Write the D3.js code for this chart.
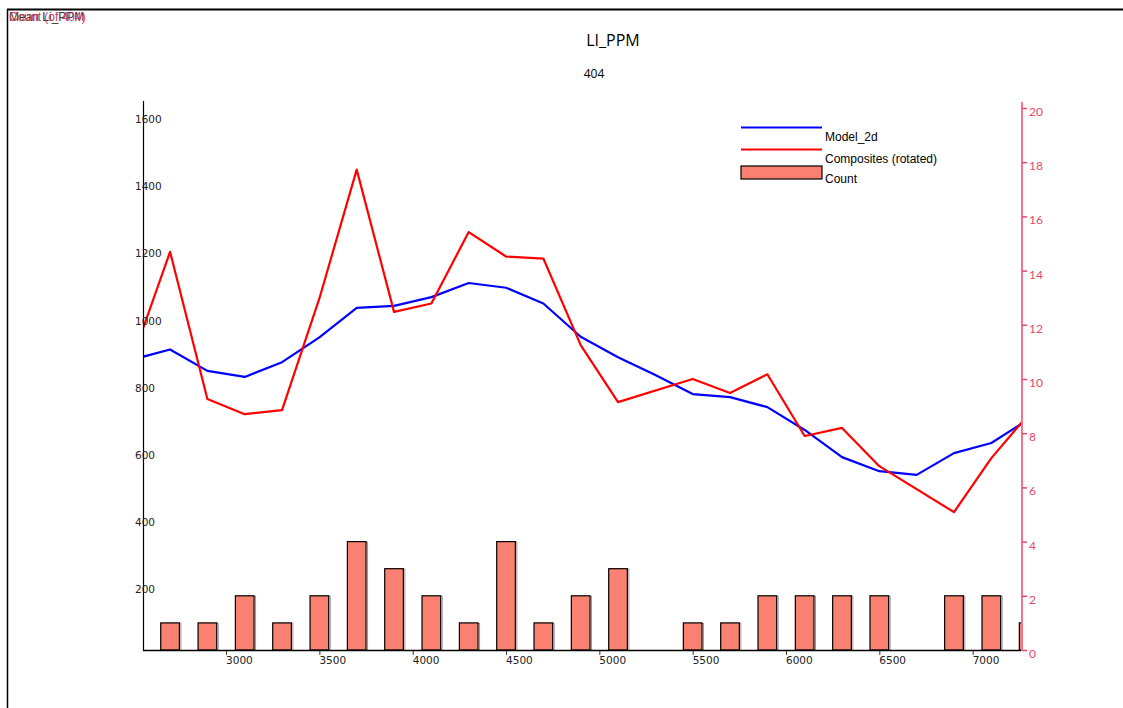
<!DOCTYPE html>
<html>
<head>
<meta charset="utf-8">
<script src="https://cdn.jsdelivr.net/npm/d3@7"></script>
<style>
  html, body { margin: 0; padding: 0; background: #fff; }
  svg { display: block; }
</style>
</head>
<body>
<svg id="chart" width="1123" height="708"></svg>
<script>
// ---- Data ----
const depths = [2500, 2700, 2900, 3100, 3300, 3500, 3700, 3900, 4100, 4300, 4500, 4700, 4900,
                5100, 5300, 5500, 5700, 5900, 6100, 6300, 6500, 6700, 6900, 7100, 7300];
const model2d = [866, 896, 832, 814, 858, 932, 1020, 1026, 1052, 1094, 1080, 1033, 934,
                 873, 820, 763, 754, 724, 656, 575, 533, 522, 587, 617, 688];
const composites = [872, 1187, 748, 703, 715, 1048, 1432, 1008, 1033, 1246, 1173, 1167, 909,
                    739, null, 808, 766, 822, 638, 662, 548, null, 411, 572, 703];
const counts = [0, 1, 1, 2, 1, 2, 4, 3, 2, 1, 4, 1, 2,
                3, 0, 1, 1, 2, 2, 2, 2, 0, 2, 2, 1];
const xTicks = [3000, 3500, 4000, 4500, 5000, 5500, 6000, 6500, 7000];
const leftTicks = [200, 400, 600, 800, 1000, 1200, 1400, 1600];
const rightTicks = [0, 2, 4, 6, 8, 10, 12, 14, 16, 18, 20];
const legendItems = ["Model_2d", "Composites (rotated)", "Count"];
const binWidth = 100;

// ---- Layout ----
const svg = d3.select("#chart");
const L = 143, R = 1021, B = 650;
const x = d3.scaleLinear().domain([2555, 7259]).range([L, R]);
const yL = d3.scaleLinear().domain([0, 1600]).range([B, 113.3]);
const yR = d3.scaleLinear().domain([0, 20]).range([B, 108]);
const axisRed = "#e8476a";

// frame
svg.append("line").attr("x1", 7).attr("x2", 1123).attr("y1", 9.5).attr("y2", 9.5)
  .attr("stroke", "#000").attr("stroke-width", 2);
svg.append("line").attr("x1", 7.5).attr("x2", 7.5).attr("y1", 9).attr("y2", 708)
  .attr("stroke", "#000").attr("stroke-width", 1.5);

// top-left overlapping labels
svg.append("text").attr("x", 9).attr("y", 21).attr("font-family", "Liberation Sans, Arial")
  .attr("font-size", 12).attr("fill", "#333").text("Mean Li_PPM");
svg.append("text").attr("x", 9).attr("y", 21).attr("font-family", "Liberation Sans, Arial")
  .attr("font-size", 12).attr("fill", "#d9365b").text("Count (of 404)");

// title
svg.append("text").attr("x", 613).attr("y", 46).attr("text-anchor", "middle")
  .attr("font-family", "Open Sans, sans-serif").attr("font-size", 16).attr("fill", "#000").text("LI_PPM");
svg.append("text").attr("x", 594).attr("y", 78).attr("text-anchor", "middle")
  .attr("font-family", "Open Sans, sans-serif").attr("font-size", 12).attr("fill", "#000").text("404");

// clip
svg.append("clipPath").attr("id", "plotclip").append("rect")
  .attr("x", L).attr("y", 95).attr("width", R - L).attr("height", B - 95 + 1);
const plot = svg.append("g").attr("clip-path", "url(#plotclip)");

// bars
const barData = depths.map((d, i) => ({ d, c: counts[i] })).filter(o => o.c > 0);
plot.selectAll("rect.shadow").data(barData).enter().append("rect")
  .attr("x", o => x(o.d - binWidth / 2) + 1.5)
  .attr("y", o => yR(o.c) + 0.5)
  .attr("width", o => x(o.d + binWidth / 2) - x(o.d - binWidth / 2))
  .attr("height", o => yR(0) - yR(o.c))
  .attr("fill", "none").attr("stroke", "#999").attr("stroke-width", 1);
plot.selectAll("rect.bar").data(barData).enter().append("rect")
  .attr("x", o => x(o.d - binWidth / 2))
  .attr("y", o => yR(o.c))
  .attr("width", o => x(o.d + binWidth / 2) - x(o.d - binWidth / 2))
  .attr("height", o => yR(0) - yR(o.c))
  .attr("fill", "#fa8072").attr("stroke", "#000").attr("stroke-width", 1.2);

// lines
const line = d3.line().defined(d => d[1] != null).x(d => x(d[0])).y(d => yL(d[1]));
const modelPts = depths.map((d, i) => [d, model2d[i]]);
const compPts = depths.map((d, i) => [d, composites[i]]).filter(p => p[1] != null);
plot.append("path").attr("d", line(modelPts)).attr("fill", "none")
  .attr("stroke", "#0000ff").attr("stroke-width", 2.2).attr("stroke-linejoin", "round");
plot.append("path").attr("d", line(compPts)).attr("fill", "none")
  .attr("stroke", "#ff0000").attr("stroke-width", 2.2).attr("stroke-linejoin", "round");

// left axis
svg.append("line").attr("x1", L + 0.5).attr("x2", L + 0.5).attr("y1", 101).attr("y2", B + 1)
  .attr("stroke", "#000").attr("stroke-width", 1.2);
svg.selectAll("text.ly").data(leftTicks).enter().append("text")
  .attr("x", 135).attr("y", d => yL(d) + 10)
  .attr("font-family", "DejaVu Sans, sans-serif").attr("font-size", 10.5).attr("fill", "#222")
  .text(d => d);

// bottom axis
svg.append("line").attr("x1", L).attr("x2", R).attr("y1", B + 0.5).attr("y2", B + 0.5)
  .attr("stroke", "#000").attr("stroke-width", 1.4);
const xt = svg.selectAll("g.xt").data(xTicks).enter().append("g")
  .attr("transform", d => `translate(${x(d)},0)`);
xt.append("line").attr("x1", 0.5).attr("x2", 0.5).attr("y1", B + 1).attr("y2", B + 5)
  .attr("stroke", "#333").attr("stroke-width", 1);
xt.append("text").attr("x", 0).attr("y", B + 14)
  .attr("font-family", "DejaVu Sans, sans-serif").attr("font-size", 10.5).attr("fill", "#222")
  .text(d => d);

// right axis
svg.append("line").attr("x1", R + 1).attr("x2", R + 1).attr("y1", 102).attr("y2", B + 1)
  .attr("stroke", axisRed).attr("stroke-width", 1.5);
const rt = svg.selectAll("g.rt").data(rightTicks).enter().append("g")
  .attr("transform", d => `translate(0,${yR(d)})`);
rt.append("line").attr("x1", R + 1).attr("x2", R + 6).attr("y1", 0.5).attr("y2", 0.5)
  .attr("stroke", axisRed).attr("stroke-width", 1.5);
rt.append("text").attr("x", R + 8).attr("y", 8)
  .attr("font-family", "Lato, sans-serif").attr("font-size", 12).attr("fill", axisRed)
  .text(d => d);

// legend
const lg = svg.append("g").attr("font-family", "Liberation Sans, Arial").attr("font-size", 12).attr("fill", "#000");
lg.append("line").attr("x1", 741).attr("x2", 822).attr("y1", 127.5).attr("y2", 127.5)
  .attr("stroke", "#0000ff").attr("stroke-width", 2);
lg.append("line").attr("x1", 741).attr("x2", 822).attr("y1", 149.5).attr("y2", 149.5)
  .attr("stroke", "#ff0000").attr("stroke-width", 2);
lg.append("rect").attr("x", 741).attr("y", 166).attr("width", 81).attr("height", 13)
  .attr("fill", "#fa8072").attr("stroke", "#000").attr("stroke-width", 1.2);
lg.selectAll("text").data(legendItems).enter().append("text")
  .attr("x", 825).attr("y", (d, i) => [141, 163, 183][i]).text(d => d);
</script>
</body>
</html>
